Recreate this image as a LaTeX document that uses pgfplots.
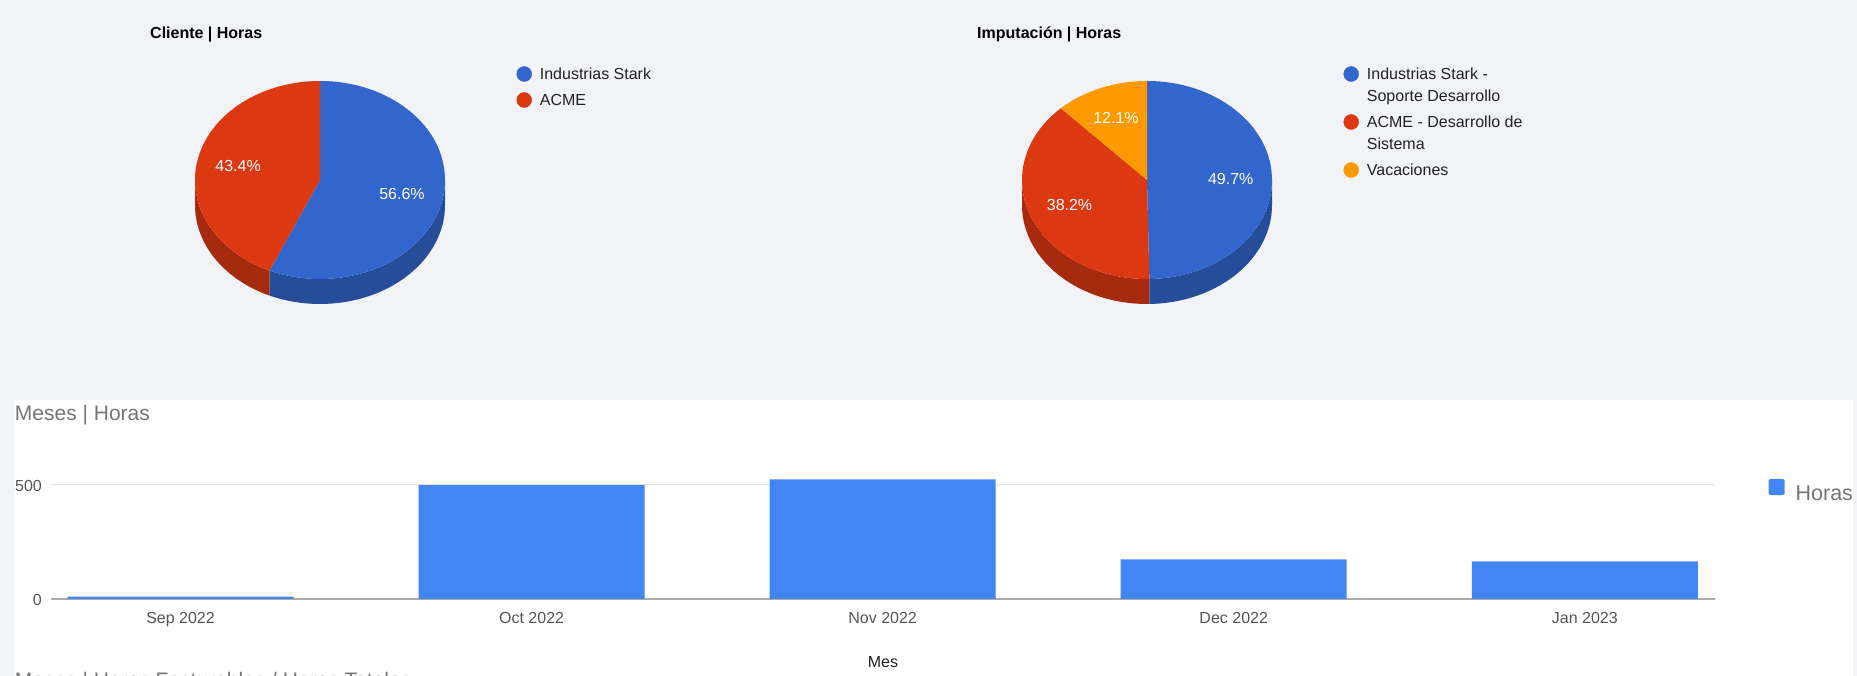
\documentclass[border=0pt]{standalone}
\usepackage{fontspec}
\setmainfont{Liberation Sans}
\usepackage{pgfplots}
\pgfplotsset{compat=1.18}
\definecolor{bg}{HTML}{F2F3F7}
\definecolor{barblue}{HTML}{4285F4}
\definecolor{pblue}{HTML}{3366CC}
\definecolor{pblueS}{HTML}{264D99}
\definecolor{pred}{HTML}{DC3912}
\definecolor{predS}{HTML}{A52A0E}
\definecolor{porange}{HTML}{FF9900}
\definecolor{porangeS}{HTML}{BF7300}
\definecolor{titlegray}{HTML}{757575}
\definecolor{tickgray}{HTML}{555555}
\definecolor{gridgray}{HTML}{E0E0E0}
\definecolor{axisgray}{HTML}{ABABAB}
\definecolor{legtext}{HTML}{222222}
\newcommand\rx{125pt}
\newcommand\ry{99pt}
\newcommand\dep{25pt}
\pgfplotsset{
  pielegend/.style={
    legend cell align=left,
    legend style={at={(axis description cs:1.286,1.0843)}, anchor=north west,
      draw=none, fill=none, inner sep=0pt, outer sep=0pt, row sep=4pt,
      cells={anchor=base west},
      nodes={inner sep=0pt, outer sep=0pt, text depth=, text=legtext, font=\fontsize{16}{22}\selectfont},
      /tikz/every odd column/.append style={column sep=8pt}},
  },
  pieaxis/.style={anchor=center, width=250pt, height=198pt, scale only axis,
    hide axis, clip=false, xmin=-1, xmax=1, ymin=-1, ymax=1,
    title style={at={(axis description cs:-0.18,1.2157)}, anchor=base west, yshift=-6pt,
      inner sep=0pt, font=\bfseries\fontsize{16}{19}\selectfont, text=black},
    pielegend},
}
\begin{document}
\begin{tikzpicture}[x=1pt,y=1pt]
\path[use as bounding box] (0,0) rectangle (1857,676);
\clip (0,0) rectangle (1857,676);
\fill[bg] (0,0) rectangle (1857,676);
\fill[white] (14,0) rectangle (1853,276);
% pie data (percent)
\def\LA{56.6}\def\LB{43.4}
\def\RA{49.7}\def\RB{38.2}\def\RC{12.1}
\pgfmathsetmacro\aL{90-3.6*\LA}
\pgfmathsetmacro\aLs{\aL+360}
\pgfmathsetmacro\mLA{90-1.8*\LA}
\pgfmathsetmacro\mLB{\aL-1.8*\LB}
\pgfmathsetmacro\aRa{90-3.6*\RA}
\pgfmathsetmacro\aRb{\aRa-3.6*\RB}
\pgfmathsetmacro\aRas{\aRa+360}
\pgfmathsetmacro\mRA{90-1.8*\RA}
\pgfmathsetmacro\mRB{\aRa-1.8*\RB}
\pgfmathsetmacro\mRC{\aRb-1.8*\RC}
% ---------- left pie
\begin{axis}[pieaxis, at={(320pt,496pt)}, title={Cliente | Horas}]
\fill[predS] (axis cs:-1,0) arc[start angle=180, end angle=\aLs, x radius=\rx, y radius=\ry] -- ++(0pt,-\dep) arc[start angle=\aLs, end angle=180, x radius=\rx, y radius=\ry] -- cycle;
\fill[pblueS] (axis cs:{cos(\aLs)},{sin(\aLs)}) arc[start angle=\aLs, end angle=360, x radius=\rx, y radius=\ry] -- ++(0pt,-\dep) arc[start angle=360, end angle=\aLs, x radius=\rx, y radius=\ry] -- cycle;
\fill[pblue] (axis cs:0,0) -- (axis cs:0,1) arc[start angle=90, end angle=\aL, x radius=\rx, y radius=\ry] -- cycle;
\fill[pred] (axis cs:0,0) -- (axis cs:{cos(\aL)},{sin(\aL)}) arc[start angle=\aL, end angle=-270, x radius=\rx, y radius=\ry] -- cycle;
\node[text=white, font=\fontsize{16}{19}\selectfont] at (axis cs:{0.67*cos(\mLA)},{0.67*sin(\mLA)}) {56.6\%};
\node[text=white, font=\fontsize{16}{19}\selectfont] at (axis cs:{0.67*cos(\mLB)},{0.67*sin(\mLB)}) {43.4\%};
\addlegendimage{legend image code/.code={\fill[pblue] (7.5pt,5.7pt) circle[radius=7.5pt];}}
\addlegendentry{{\begin{tabular}[t]{@{}l@{}}Industrias Stark\end{tabular}}}
\addlegendimage{legend image code/.code={\fill[pred] (7.5pt,5.7pt) circle[radius=7.5pt];}}
\addlegendentry{{\begin{tabular}[t]{@{}l@{}}ACME\end{tabular}}}
\end{axis}
% ---------- right pie
\begin{axis}[pieaxis, at={(1147pt,496pt)}, title={Imputación | Horas}]
\fill[predS] (axis cs:-1,0) arc[start angle=180, end angle=\aRas, x radius=\rx, y radius=\ry] -- ++(0pt,-\dep) arc[start angle=\aRas, end angle=180, x radius=\rx, y radius=\ry] -- cycle;
\fill[pblueS] (axis cs:{cos(\aRas)},{sin(\aRas)}) arc[start angle=\aRas, end angle=360, x radius=\rx, y radius=\ry] -- ++(0pt,-\dep) arc[start angle=360, end angle=\aRas, x radius=\rx, y radius=\ry] -- cycle;
\fill[pblue] (axis cs:0,0) -- (axis cs:0,1) arc[start angle=90, end angle=\aRa, x radius=\rx, y radius=\ry] -- cycle;
\fill[pred] (axis cs:0,0) -- (axis cs:{cos(\aRa)},{sin(\aRa)}) arc[start angle=\aRa, end angle=\aRb, x radius=\rx, y radius=\ry] -- cycle;
\fill[porange] (axis cs:0,0) -- (axis cs:{cos(\aRb)},{sin(\aRb)}) arc[start angle=\aRb, end angle=-270, x radius=\rx, y radius=\ry] -- cycle;
\node[text=white, font=\fontsize{16}{19}\selectfont] at (axis cs:{0.67*cos(\mRA)},{0.67*sin(\mRA)}) {49.7\%};
\node[text=white, font=\fontsize{16}{19}\selectfont] at (axis cs:{0.67*cos(\mRB)},{0.67*sin(\mRB)}) {38.2\%};
\node[text=white, font=\fontsize{16}{19}\selectfont] at (axis cs:{0.67*cos(\mRC)},{0.67*sin(\mRC)}) {12.1\%};
\addlegendimage{legend image code/.code={\fill[pblue] (7.5pt,5.7pt) circle[radius=7.5pt];}}
\addlegendentry{{\begin{tabular}[t]{@{}l@{}}Industrias Stark -\\Soporte Desarrollo\end{tabular}}}
\addlegendimage{legend image code/.code={\fill[pred] (7.5pt,5.7pt) circle[radius=7.5pt];}}
\addlegendentry{{\begin{tabular}[t]{@{}l@{}}ACME - Desarrollo de\\Sistema\end{tabular}}}
\addlegendimage{legend image code/.code={\fill[porange] (7.5pt,5.7pt) circle[radius=7.5pt];}}
\addlegendentry{{\begin{tabular}[t]{@{}l@{}}Vacaciones\end{tabular}}}
\end{axis}
% ---------- bar chart
\begin{axis}[at={(51pt,77pt)}, anchor=south west, width=1664pt, height=136.8pt, scale only axis,
  xmin=-0.369, xmax=4.371, ymin=0, ymax=600,
  xtick={0,1,2,3,4}, xticklabels={Sep 2022,Oct 2022,Nov 2022,Dec 2022,Jan 2023},
  ytick={0,500},
  axis x line*=bottom, axis y line*=left,
  y axis line style={draw=none},
  x axis line style={draw=axisgray, line width=2pt, -},
  major tick length=0pt, tick style={draw=none},
  ymajorgrids, grid style={gridgray, line width=1pt},
  /pgf/number format/assume math mode=true,
  ticklabel style={font=\fontsize{16}{19}\selectfont, text=tickgray},
  xticklabel style={anchor=base, inner sep=0pt, yshift=-24.5pt},
  yticklabel style={anchor=base east, inner sep=0pt, xshift=-9pt, yshift=-7pt},
  xlabel={Mes},
  xlabel style={at={(axis description cs:0.5,0)}, anchor=base, inner sep=0pt, yshift=-69pt, font=\fontsize{16}{19}\selectfont, text=legtext},
  title={Meses | Horas},
  title style={at={(axis description cs:-0.0218,1.3048)}, anchor=base west, yshift=-6pt, inner sep=0pt, font=\fontsize{21}{25}\selectfont, text=titlegray},
  legend style={at={(axis description cs:1.0322,0.877)}, anchor=north west, draw=none, fill=none, inner sep=0pt, outer sep=0pt,
    cells={anchor=base west}, nodes={inner sep=0pt, outer sep=0pt, text depth=, font=\fontsize{21.5}{25}\selectfont, text=titlegray},
    /tikz/every odd column/.append style={column sep=11pt}},
  legend image code/.code={\fill[barblue, rounded corners=2pt] (0pt,5pt) rectangle (16pt,21pt);},
]
\addplot[ybar, bar width=226pt, fill=barblue, draw=none] coordinates {(0,10) (1,499) (2,525) (3,174) (4,165)};
\addlegendentry{Horas}
\end{axis}
\node[anchor=base west, inner sep=0pt, text=titlegray, font=\fontsize{21}{25}\selectfont] at (14.7,-12) {Meses | Horas Facturables / Horas Totales};
\end{tikzpicture}
\end{document}
